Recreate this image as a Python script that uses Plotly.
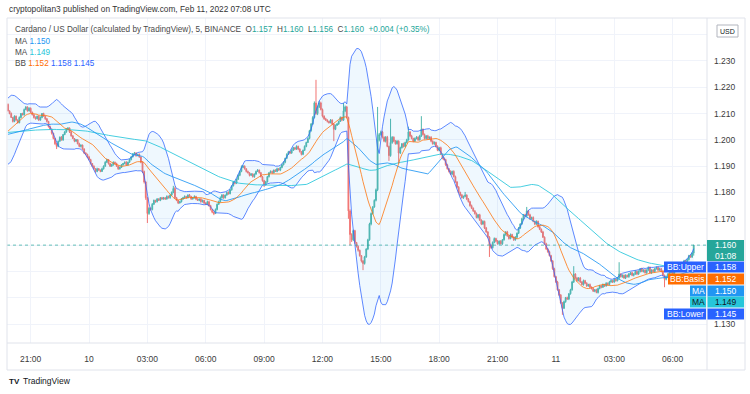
import pandas as pd
import plotly.graph_objects as go

# ---------------- data (prices in 1e-4 units) ----------------
# 5-minute closes before the visible window (only used to warm up the indicators)
warmup_close = [
    12020, 12030, 12045, 12040, 12055, 12050, 12035, 12030, 12040, 12050,
    12060, 12055, 12045, 12040, 12030, 12025, 12035, 12045, 12050, 12040,
    12030, 12020, 12025, 12035, 12040, 12050, 12045, 12035, 12030, 12025,
    12035, 12040, 12045, 12030, 12020, 12025, 12030, 12040, 12035, 12030,
    12025, 12020, 12030, 12035, 12040, 12030, 12025, 12020, 12030, 12025,
    12020,
    12030, 12025, 12020, 12010, 12015, 12025, 12020, 12010, 12005, 12015,
    12020, 12025, 12015, 12010, 12005, 12000, 12010, 12020, 12025, 12015,
    12010, 12005, 12015, 12020, 12010, 12000, 11995, 12005, 12010, 12000,
    11990, 11975, 11960, 11950, 11955, 11965, 11975, 11985, 11995, 12005,
    12030, 12050, 12070, 12085, 12100, 12090, 12110, 12125, 12135,
]

# visible closes, 2022-02-09 19:50 .. 2022-02-11 07:05, one row per hour
close = [
    12110, 12100, 12085, 12070, 12090, 12075, 12065, 12085, 12100, 12095, 12115, 12125,
    12110, 12120, 12105, 12095, 12085, 12080, 12090, 12075, 12085, 12100, 12090, 12080,
    12070, 12050, 12040, 12025, 12005, 11985, 11975, 11995, 12010, 12000, 12020, 12030,
    12040, 12045, 12030, 12015, 12005, 11995, 12000, 11985, 11975, 11980, 11965, 11950,
    11945, 11935, 11925, 11910, 11900, 11890, 11880, 11890, 11885, 11880, 11890, 11900,
    11915, 11925, 11910, 11900, 11905, 11915, 11910, 11900, 11890, 11895, 11905, 11910,
    11915, 11905, 11915, 11925, 11935, 11945, 11950, 11940, 11945, 11935, 11915, 11880,
    11840, 11780, 11720, 11740, 11735, 11755, 11770, 11765, 11775, 11770, 11780, 11775,
    11780, 11775, 11785, 11780, 11790, 11800, 11815, 11780, 11770, 11760, 11765, 11775,
    11780, 11785, 11780, 11790, 11785, 11775, 11780, 11785, 11775, 11770, 11775, 11765,
    11770, 11760, 11755, 11765, 11750, 11735, 11725, 11720, 11735, 11755, 11765, 11780,
    11790, 11780, 11790, 11800, 11795, 11810, 11825, 11840, 11835, 11850, 11865, 11880,
    11895, 11900, 11890, 11880, 11875, 11865, 11870, 11860, 11870, 11880, 11885, 11875,
    11860, 11845, 11830, 11840, 11860, 11875, 11880, 11875, 11885, 11880, 11890, 11885,
    11895, 11905, 11915, 11930, 11945, 11955, 11950, 11960, 11970, 11965, 11975, 11965,
    11955, 11945, 11960, 11975, 11990, 12005, 12035, 12060, 12085, 12140, 12100, 12125,
    12140, 12115, 12090, 12080, 12075, 12070, 12065, 12075, 12060, 12040, 12055, 12060,
    12070, 12085, 12075, 12110, 12125, 12085, 11730, 11640, 11620, 11655, 11610, 11595,
    11580, 11560, 11540, 11530, 11555, 11585, 11620, 11680, 11720, 11745, 11770, 11810,
    12000, 12020, 12030, 12010, 11995, 12010, 11975, 11940, 11990, 12010, 11995, 11985,
    11995, 11950, 11970, 11985, 11975, 11990, 12000, 12030, 12015, 12005, 11995, 12005,
    12010, 12000, 12015, 12040, 12020, 12005, 12015, 12005, 12010, 11995, 11985, 11990,
    11975, 11960, 11970, 11945, 11930, 11925, 11905, 11890, 11880, 11870, 11880, 11860,
    11840, 11820, 11800, 11790, 11780, 11785, 11790, 11775, 11765, 11750, 11740, 11730,
    11720, 11705, 11715, 11695, 11680, 11690, 11665, 11650, 11630, 11600, 11590, 11610,
    11625, 11615, 11605, 11615, 11605, 11620, 11640, 11650, 11635, 11625, 11640, 11630,
    11620, 11630, 11645, 11665, 11680, 11700, 11715, 11710, 11730, 11715, 11700, 11705,
    11690, 11680, 11690, 11670, 11660, 11650, 11630, 11605, 11585, 11575, 11560, 11540,
    11510, 11480, 11460, 11430, 11410, 11380, 11360, 11385, 11400, 11395, 11415, 11430,
    11460, 11490, 11475, 11465, 11475, 11460, 11450, 11465, 11455, 11445, 11450, 11440,
    11435, 11425, 11430, 11420, 11435, 11445, 11440, 11450, 11445, 11455, 11450, 11460,
    11465, 11460, 11470, 11465, 11475, 11490, 11480, 11485, 11475, 11485, 11480, 11490,
    11495, 11485, 11490, 11500, 11490, 11500, 11510, 11500, 11505, 11495, 11505, 11515,
    11495, 11505, 11500, 11510, 11515, 11505, 11510, 11500, 11485, 11470, 11480, 11490,
    11495, 11500, 11490, 11505, 11510, 11515, 11525, 11520, 11530, 11540, 11535, 11545, 11560, 11555, 11570, 11600,
]

# wick lengths above / below the candle body (1e-4 units)
upper_wick = [
    3, 2, 4, 2, 3, 2, 3, 4, 2, 3, 4, 3,
    2, 4, 3, 2, 3, 4, 2, 3, 4, 2, 3, 2,
    3, 2, 4, 3, 2, 3, 4, 2, 3, 4, 2, 3,
    5, 3, 2, 4, 3, 2, 3, 2, 4, 3, 2, 3,
    3, 2, 4, 3, 2, 3, 2, 4, 3, 2, 4, 3,
    4, 3, 2, 3, 4, 3, 2, 3, 2, 4, 3, 2,
    3, 4, 2, 3, 4, 5, 4, 3, 2, 3, 2, 3,
    3, 2, 2, 4, 3, 5, 3, 2, 4, 3, 2, 3,
    3, 2, 4, 3, 2, 4, 10, 7, 3, 2, 3, 4,
    3, 4, 2, 3, 4, 2, 3, 4, 2, 3, 2, 3,
    3, 2, 3, 4, 2, 3, 2, 3, 4, 3, 4, 5,
    4, 3, 2, 3, 4, 3, 2, 4, 3, 2, 4, 3,
    8, 4, 3, 2, 3, 2, 4, 3, 2, 3, 4, 2,
    3, 2, 3, 4, 3, 2, 4, 3, 2, 3, 4, 3,
    3, 4, 3, 2, 4, 3, 2, 4, 3, 2, 4, 3,
    3, 2, 3, 4, 3, 4, 3, 4, 5, 6, 88, 5,
    8, 5, 4, 3, 4, 3, 2, 4, 3, 2, 3, 4,
    3, 4, 3, 30, 5, 4, 3, 6, 5, 4, 3, 2,
    4, 3, 2, 3, 4, 3, 4, 5, 4, 3, 4, 5,
    125, 6, 5, 4, 3, 4, 5, 3, 90, 4, 3, 4,
    4, 3, 4, 3, 4, 3, 4, 20, 3, 4, 3, 4,
    4, 3, 4, 50, 3, 4, 3, 4, 3, 4, 3, 4,
    3, 4, 3, 4, 3, 4, 3, 4, 3, 4, 3, 4,
    4, 3, 4, 3, 4, 3, 12, 3, 4, 3, 4, 3,
    3, 4, 3, 4, 3, 4, 3, 4, 3, 4, 3, 4,
    4, 3, 4, 3, 4, 3, 4, 3, 4, 3, 4, 3,
    3, 4, 3, 4, 3, 4, 3, 4, 15, 3, 4, 3,
    4, 3, 4, 3, 4, 3, 4, 3, 4, 3, 4, 3,
    3, 4, 3, 4, 3, 4, 3, 4, 3, 4, 3, 4,
    4, 30, 3, 4, 3, 4, 3, 4, 3, 4, 3, 4,
    3, 4, 3, 4, 3, 4, 3, 4, 3, 4, 3, 4,
    4, 3, 4, 3, 4, 45, 3, 4, 3, 4, 3, 4,
    3, 4, 3, 4, 3, 4, 3, 4, 3, 4, 3, 4,
    4, 3, 4, 3, 4, 3, 4, 3, 4, 3, 4, 3,
    3, 4, 3, 4, 3, 4, 3, 4, 3, 4, 3, 4, 3, 4, 3, 0,
]
lower_wick = [
    2, 3, 2, 4, 3, 2, 3, 2, 3, 2, 3, 2,
    3, 2, 3, 2, 4, 3, 2, 3, 2, 3, 2, 4,
    4, 3, 2, 5, 3, 4, 10, 3, 2, 3, 4, 2,
    3, 2, 4, 3, 2, 4, 3, 2, 3, 4, 3, 4,
    3, 4, 3, 4, 3, 2, 5, 3, 2, 3, 2, 3,
    2, 3, 4, 3, 2, 3, 4, 2, 4, 3, 2, 3,
    3, 2, 3, 2, 3, 2, 3, 4, 2, 3, 4, 6,
    6, 8, 36, 5, 4, 3, 2, 4, 3, 2, 3, 2,
    2, 3, 2, 3, 4, 2, 3, 4, 3, 4, 2, 3,
    2, 3, 4, 2, 3, 3, 2, 3, 4, 2, 3, 4,
    3, 4, 3, 2, 4, 3, 4, 6, 2, 3, 2, 3,
    3, 4, 3, 2, 3, 2, 3, 2, 4, 3, 2, 3,
    3, 2, 3, 4, 3, 4, 2, 3, 4, 3, 2, 3,
    3, 4, 9, 3, 2, 3, 2, 4, 3, 2, 3, 2,
    4, 3, 2, 4, 3, 2, 4, 3, 2, 4, 3, 4,
    3, 4, 3, 2, 3, 2, 3, 4, 3, 4, 5, 6,
    4, 3, 5, 4, 3, 4, 3, 2, 4, 45, 3, 2,
    3, 2, 4, 3, 5, 4, 30, 40, 8, 5, 6, 4,
    5, 4, 6, 25, 4, 3, 4, 3, 5, 4, 3, 4,
    5, 6, 4, 5, 4, 5, 3, 20, 4, 5, 4, 3,
    3, 40, 4, 3, 4, 3, 4, 3, 4, 3, 4, 3,
    3, 4, 3, 4, 3, 4, 3, 4, 3, 4, 3, 4,
    4, 3, 4, 3, 4, 3, 4, 3, 4, 3, 4, 3,
    3, 4, 3, 4, 3, 4, 3, 4, 3, 4, 3, 4,
    4, 3, 4, 3, 4, 3, 4, 3, 4, 45, 4, 3,
    3, 4, 3, 4, 3, 4, 3, 4, 3, 4, 3, 4,
    4, 3, 4, 3, 4, 3, 4, 3, 4, 3, 4, 3,
    3, 4, 3, 4, 3, 4, 3, 4, 3, 4, 3, 4,
    4, 3, 4, 3, 4, 3, 25, 3, 4, 3, 4, 3,
    3, 4, 3, 4, 3, 4, 3, 4, 3, 4, 3, 4,
    4, 3, 4, 3, 4, 3, 4, 3, 4, 3, 4, 3,
    3, 4, 3, 4, 3, 4, 3, 4, 3, 4, 3, 4,
    4, 3, 4, 3, 4, 3, 4, 3, 4, 3, 4, 3,
    3, 4, 3, 4, 3, 4, 3, 4, 3, 30, 4, 3,
    4, 3, 4, 3, 4, 3, 4, 3, 4, 3, 4, 3, 4, 3, 4, 10,
]

x_tick_times = ["2022-02-09 21:00", "2022-02-10 00:00", "2022-02-10 03:00", "2022-02-10 06:00",
                "2022-02-10 09:00", "2022-02-10 12:00", "2022-02-10 15:00", "2022-02-10 18:00",
                "2022-02-10 21:00", "2022-02-11 00:00", "2022-02-11 03:00", "2022-02-11 06:00"]
x_tick_text = ["21:00", "10", "03:00", "06:00", "09:00", "12:00", "15:00", "18:00",
               "21:00", "11", "03:00", "06:00"]
y_tick_vals = [1.13, 1.14, 1.15, 1.16, 1.17, 1.18, 1.19, 1.20, 1.21, 1.22, 1.23, 1.24]
y_tick_text = ["1.130", "", "", "", "1.170", "1.180", "1.190", "1.200", "1.210", "1.220", "1.230", ""]

last_price = 1.160
label_names = ["BB:Upper", "BB:Basis", "MA", "MA", "BB:Lower"]
label_values = [1.158, 1.152, 1.150, 1.149, 1.145]

# ---------------- derived series ----------------
n_vis = len(close)
full = pd.Series(warmup_close + close, dtype=float) / 1e4
ma20 = full.rolling(20).mean()
sd20 = full.rolling(20).std(ddof=0)
bb_up = ma20 + 2 * sd20
bb_lo = ma20 - 2 * sd20
ma50 = full.rolling(50).mean()
ma100 = full.rolling(100).mean()
k = len(warmup_close)

c = full.iloc[k:].reset_index(drop=True)
o = full.shift(1).iloc[k:].reset_index(drop=True)
hi = pd.concat([o, c], axis=1).max(axis=1) + pd.Series(upper_wick) / 1e4
lo = pd.concat([o, c], axis=1).min(axis=1) - pd.Series(lower_wick) / 1e4
t = pd.date_range("2022-02-09 19:50", periods=n_vis, freq="5min")

vis = slice(k, k + n_vis)
bbu, bbl, bbm = bb_up.iloc[vis].values, bb_lo.iloc[vis].values, ma20.iloc[vis].values
m50, m100 = ma50.iloc[vis].values, ma100.iloc[vis].values

# ---------------- figure ----------------
W, H = 750, 394
PL, PR, PT, PB = 7, 707, 18, 343
FONT = "Liberation Sans, Arial, sans-serif"
TXT = "#131722"


def px(xp):
    return (xp - PL) / (PR - PL)


def py(yp):
    return (PB - yp) / (PB - PT)


fig = go.Figure()
fig.add_trace(go.Candlestick(
    x=t, open=o, high=hi, low=lo, close=c,
    increasing=dict(line=dict(color="#26a69a", width=1), fillcolor="#26a69a"),
    decreasing=dict(line=dict(color="#ef5350", width=1), fillcolor="#ef5350"),
    whiskerwidth=0, hoverinfo="skip", opacity=0.8))
fig.add_trace(go.Scatter(x=t, y=bbl, mode="lines", line=dict(color="rgba(41,98,255,0.75)", width=1),
                         hoverinfo="skip"))
fig.add_trace(go.Scatter(x=t, y=bbu, mode="lines", line=dict(color="rgba(41,98,255,0.75)", width=1),
                         fill="tonexty", fillcolor="rgba(33,150,243,0.07)", hoverinfo="skip"))
fig.add_trace(go.Scatter(x=t, y=m100, mode="lines", line=dict(color="rgba(38,198,218,0.85)", width=1),
                         hoverinfo="skip"))
fig.add_trace(go.Scatter(x=t, y=m50, mode="lines", line=dict(color="rgba(33,150,243,0.85)", width=1),
                         hoverinfo="skip"))
fig.add_trace(go.Scatter(x=t, y=bbm, mode="lines", line=dict(color="rgba(255,109,0,0.75)", width=1),
                         hoverinfo="skip"))

shapes = []
# current price dotted line
shapes.append(dict(type="line", xref="paper", yref="y", x0=0, x1=1, y0=last_price, y1=last_price,
                   line=dict(color="rgba(38,166,154,0.7)", width=1, dash="dot"), layer="above"))
# frame
border = "#e0e3eb"
shapes.append(dict(type="rect", xref="paper", yref="paper", x0=px(7), x1=px(745), y0=py(370), y1=py(18),
                   line=dict(color=border, width=1)))
shapes.append(dict(type="line", xref="paper", yref="paper", x0=px(707), x1=px(707), y0=py(370), y1=py(18),
                   line=dict(color=border, width=1)))
shapes.append(dict(type="line", xref="paper", yref="paper", x0=px(7), x1=px(745), y0=py(343), y1=py(343),
                   line=dict(color=border, width=1)))
# USD box
shapes.append(dict(type="rect", xref="paper", yref="paper", x0=px(717), x1=px(738), y0=py(37), y1=py(25),
                   line=dict(color="#b2b5be", width=1), fillcolor="white"))

annotations = []


def text(xp, yp, s, size=8.5, color=TXT, anchor="left", yanchor="middle"):
    annotations.append(dict(xref="paper", yref="paper", x=px(xp), y=py(yp), text=s, showarrow=False,
                            xanchor=anchor, yanchor=yanchor, font=dict(family=FONT, size=size, color=color)))


def box(x0, x1, y0, y1, color):
    shapes.append(dict(type="rect", xref="paper", yref="paper", x0=px(x0), x1=px(x1), y0=py(y1), y1=py(y0),
                       line=dict(width=0), fillcolor=color, layer="above"))


# current price box
box(707, 744, 240, 261, "#26a69a")
text(726, 245.5, "1.160", 8.5, "white", "center")
text(726, 256, "01:08", 8.5, "white", "center")

label_colors = ["#2962FF", "#FF6D00", "#2196F3", "#26C6DA", "#2962FF"]
label_text_colors = ["white", "white", "white", "#131722", "white"]
label_y = [267, 279, 291, 302, 314]
label_x0 = [664, 668, 690, 690, 664]
for name, val, col, tcol, yc, x0 in zip(label_names, label_values, label_colors, label_text_colors,
                                        label_y, label_x0):
    box(x0, 706, yc - 5.5, yc + 5.5, col)
    box(707.5, 744, yc - 5.5, yc + 5.5, col)
    text((x0 + 706) / 2, yc, name, 8.5, tcol, "center")
    text(726, yc, f"{val:.3f}", 8.5, tcol, "center")

text(727.5, 31, "USD", 7, TXT, "center")

# header / legend
text(7, 9, "cryptopolitan3 published on TradingView.com, Feb 11, 2022 07:08 UTC", 8.3, "#333333")
up = "#26a69a"
sp = "\u00a0"
line1 = ("Cardano / US Dollar (calculated by TradingView), 5, BINANCE" + sp * 2 +
         f"O<span style='color:{up}'>1.157</span>{sp*2}H<span style='color:{up}'>1.160</span>{sp*2}"
         f"L<span style='color:{up}'>1.156</span>{sp*2}C<span style='color:{up}'>1.160</span>{sp*2}"
         f"<span style='color:{up}'>+0.004 (+0.35%)</span>")
text(13, 29.5, line1, 8.2, "#4a4a4a")
text(13, 41, f"MA{sp}<span style='color:#2196F3'>1.150</span>", 8.2, "#4a4a4a")
text(13, 52.5, f"MA{sp}<span style='color:#26C6DA'>1.149</span>", 8.2, "#4a4a4a")
text(13, 64, f"BB{sp}<span style='color:#FF6D00'>1.152</span>{sp}<span style='color:#2962FF'>1.158</span>"
             f"{sp}<span style='color:#2962FF'>1.145</span>", 8.2, "#4a4a4a")

# footer
text(7, 381, "<b>TV</b>", 8, "#131722")
text(21, 381, "TradingView", 8.5, "#131722")

fig.update_layout(
    width=W, height=H, margin=dict(l=PL, r=W - PR, t=PT, b=H - PB),
    paper_bgcolor="white", plot_bgcolor="white", showlegend=False,
    shapes=shapes, annotations=annotations,
    font=dict(family=FONT, size=8.5, color="#3b3b3b"),
    xaxis=dict(type="date", range=["2022-02-09 19:47", "2022-02-11 07:46"], rangeslider=dict(visible=False),
               tickvals=x_tick_times, ticktext=x_tick_text, showgrid=True, gridcolor="#f0f3fa",
               zeroline=False, showline=False, ticks="", ticklabelstandoff=9,
               tickfont=dict(family=FONT, size=8.5, color="#3b3b3b")),
    yaxis=dict(side="right", range=[1.1228, 1.2463], tickvals=y_tick_vals, ticktext=y_tick_text,
               showgrid=True, gridcolor="#f0f3fa", zeroline=False, showline=False, ticks="",
               ticklabelstandoff=6, tickfont=dict(family=FONT, size=8.5, color="#3b3b3b")),
    hovermode=False,
)

fig.write_html("out.html", config={"displayModeBar": False},
               post_script="document.body.style.margin='0px';")
